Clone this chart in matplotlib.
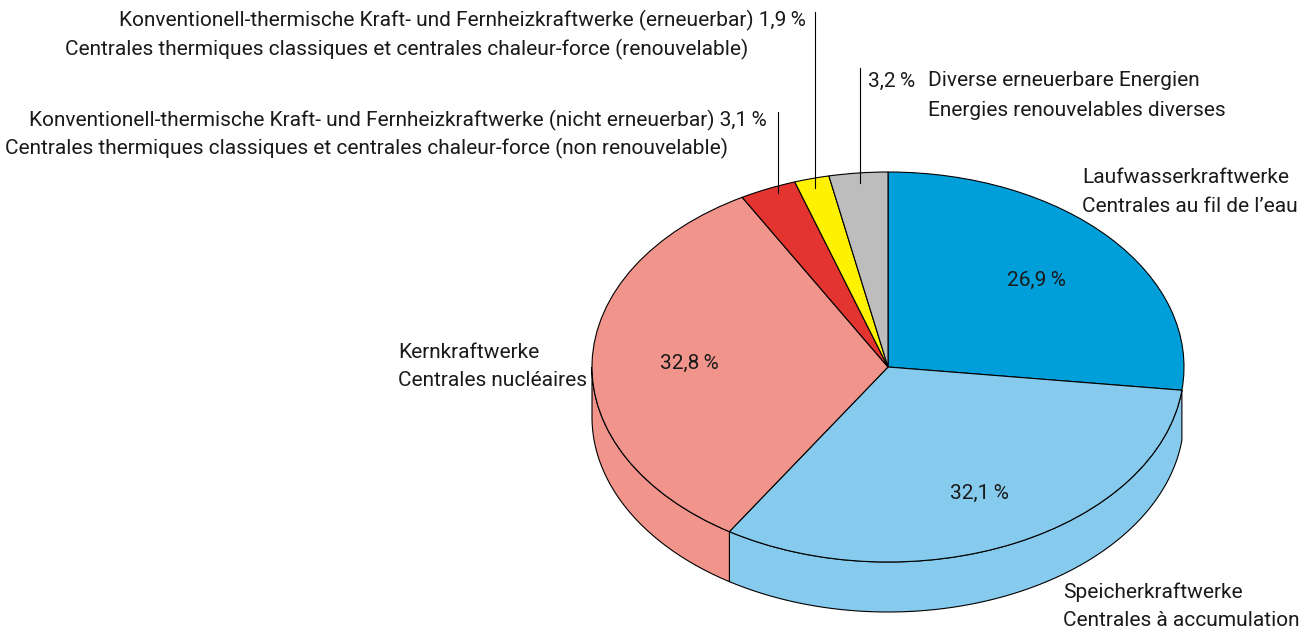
import numpy as np
import matplotlib
matplotlib.use("Agg")
import matplotlib.pyplot as plt

# data (shares in %)
shares = [26.9, 32.1, 32.8, 3.1, 1.9, 3.2]
colors = ['#009fda', '#86cbed', '#f1948c', '#e3342f', '#fff200', '#bdbdbd']
pct_labels = ['26,9\u2009%', '32,1\u2009%', '32,8\u2009%', '', '', '']

plt.rcParams['font.family'] = ['Roboto', 'DejaVu Sans']

W, H = 1309, 632
fig = plt.figure(figsize=(W / 100, H / 100), dpi=100)
ax = fig.add_axes([0, 0, 1, 1])

# pie geometry in pixels: center, radii, depth
cx, cy, rx, ry, depth = 888, 367, 296, 195, 50
d = depth / ry

# side of the cylinder (front part, starting at first boundary below horizon)
cum = np.concatenate([[0], np.cumsum(shares)]) / 100.0
bounds = 90 - 360 * cum
side_top = max(b for b in bounds if b <= 0)
for i, c in enumerate(colors):
    hi, lo = min(bounds[i], side_top), max(bounds[i + 1], -180)
    if hi <= lo:
        continue
    t = np.radians(np.linspace(hi, lo, 100))
    xs = np.concatenate([np.cos(t), np.cos(t[::-1])])
    ys = np.concatenate([np.sin(t), np.sin(t[::-1]) - d])
    ax.fill(xs, ys, facecolor=c, edgecolor='black', linewidth=0.8, zorder=1)

wedges, _ = ax.pie(shares, colors=colors, startangle=90, counterclock=False,
                   wedgeprops=dict(edgecolor='black', linewidth=0.8, zorder=2))
ax.set_aspect('auto')
ax.set_xlim(-cx / rx, (W - cx) / rx)
ax.set_ylim(-(H - cy) / ry, cy / ry)
ax.axis('off')

fs = 15
for i, lab in enumerate(pct_labels):
    if not lab:
        continue
    mid = np.radians(90 - 180 * (cum[i] + cum[i + 1]))
    r = 0.67 if i != 1 else 0.72
    ax.text(r * np.cos(mid), r * np.sin(mid), lab, ha='center', va='center',
            fontsize=fs, color='#1a1a1a', zorder=5)


def px(x, y):
    return x / W, 1 - y / H


txt = [
    (806, 20, 'right', 'Konventionell-thermische Kraft- und Fernheizkraftwerke (erneuerbar) 1,9\u2009%'),
    (748, 49, 'right', 'Centrales thermiques classiques et centrales chaleur-force (renouvelable)'),
    (767, 120, 'right', 'Konventionell-thermische Kraft- und Fernheizkraftwerke (nicht erneuerbar) 3,1\u2009%'),
    (5, 148, 'left', 'Centrales thermiques classiques et centrales chaleur-force (non renouvelable)'),
    (868, 81, 'left', '3,2\u2009%'),
    (928, 81, 'left', 'Diverse erneuerbare Energien'),
    (928, 110, 'left', 'Energies renouvelables diverses'),
    (1082, 178, 'left', 'Laufwasserkraftwerke'),
    (1082, 207, 'left', 'Centrales au fil de l\u2019eau'),
    (398, 352, 'left', 'Kernkraftwerke'),
    (398, 381, 'left', 'Centrales nucléaires'),
    (1063, 592, 'left', 'Speicherkraftwerke'),
    (1063, 620, 'left', 'Centrales à accumulation'),
]
for x, y, ha, s in txt:
    fig.text(*px(x, y), s, ha=ha, va='center', fontsize=fs, color='#1a1a1a')

# leader lines
for x, y0, y1 in [(815, 12, 188), (778, 112, 193), (860, 68, 183)]:
    fig.add_artist(plt.Line2D([x / W, x / W], [1 - y0 / H, 1 - y1 / H],
                              color='black', linewidth=0.8))

fig.savefig('out.png', dpi=100, facecolor='white')
